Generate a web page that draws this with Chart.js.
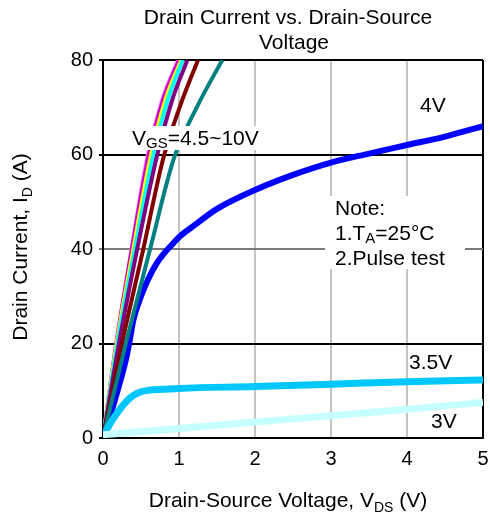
<!DOCTYPE html>
<html>
<head>
<meta charset="utf-8">
<script src="https://cdn.jsdelivr.net/npm/chart.js@4"></script>
<style>
  html, body { margin: 0; padding: 0; background: #fff; }
  #wrap { width: 490px; height: 520px; position: relative; }
</style>
</head>
<body>
<div id="wrap"><canvas id="c" width="490" height="520"></canvas></div>
<script>
// ---- data ----
const xTicks = [0, 1, 2, 3, 4, 5];
const yTicks = [0, 20, 40, 60, 80];

const v_vgs3 = [0, 1, 2, 3, 4, 5];
const i_vgs3 = [0.7, 2.0, 3.4, 4.7, 6.1, 7.5];

const v_vgs35 = [0, 0.05, 0.1, 0.2, 0.3, 0.4, 0.5, 0.6, 0.8, 1, 2, 3, 4, 5];
const i_vgs35 = [0, 1.8, 3.2, 5.6, 7.6, 9.0, 9.8, 10.1, 10.3, 10.5, 10.9, 11.4, 11.9, 12.3];

const v_vgs4 = [0, 0.1, 0.2, 0.3, 0.35, 0.4, 0.5, 0.6, 0.7, 0.8, 0.9, 1.0, 1.2, 1.5, 2, 2.5, 3, 3.5, 4, 4.5, 5];
const i_vgs4 = [0, 5, 10.5, 16.5, 20.5, 25, 30, 33.8, 36.8, 39, 40.8, 42.5, 45, 48.5, 52.5, 55.7, 58.3, 60.2, 62, 63.8, 66];

const v_vgs45 = [0, 0.3, 0.62, 0.93, 1.25, 1.57];
const i_vgs45 = [0, 20, 40, 59, 70.5, 80];
const v_vgs5 = [0, 0.25, 0.53, 0.79, 1.02, 1.25];
const i_vgs5 = [0, 20, 40, 59, 70.5, 80];
const v_vgs6 = [0, 0.21, 0.45, 0.70, 0.91, 1.11];
const i_vgs6 = [0, 20, 40, 59, 71.5, 80];
const v_vgs7 = [0, 0.19, 0.42, 0.65, 0.85, 1.05];
const i_vgs7 = [0, 20, 40, 59, 71.5, 80];
const v_vgs8 = [0, 0.18, 0.40, 0.62, 0.82, 1.03];
const i_vgs8 = [0, 20, 40, 59, 71.5, 80];
const v_vgs9 = [0, 0.175, 0.38, 0.59, 0.79, 1.0];
const i_vgs9 = [0, 20, 40, 59, 71.5, 80];
const v_vgs10 = [0, 0.17, 0.37, 0.57, 0.77, 0.98];
const i_vgs10 = [0, 20, 40, 59, 71.5, 80];

const FONT = '"Liberation Sans", Arial, Helvetica, sans-serif';
const TS = 21;   // text size for titles / notes
const KS = 20;   // tick label size

function pts(vs, is) { return vs.map((v, k) => ({ x: v, y: is[k] })); }
function ds(label, vs, is, color, w) {
  return { label, data: pts(vs, is), borderColor: color, backgroundColor: color,
           borderWidth: w, pointRadius: 0, cubicInterpolationMode: 'monotone', fill: false };
}

const datasets = [
  ds('3V', v_vgs3, i_vgs3, '#c6ffff', 7),
  ds('3.5V', v_vgs35, i_vgs35, '#00c8ff', 7),
  ds('4.5V', v_vgs45, i_vgs45, '#008080', 4),
  ds('5V', v_vgs5, i_vgs5, '#800000', 4),
  ds('6V', v_vgs6, i_vgs6, '#800080', 4),
  ds('7V', v_vgs7, i_vgs7, '#00ffff', 4),
  ds('8V', v_vgs8, i_vgs8, '#ffff00', 4),
  ds('9V', v_vgs9, i_vgs9, '#cc00cc', 4),
  ds('10V', v_vgs10, i_vgs10, '#ff88ff', 3),
  ds('4V', v_vgs4, i_vgs4, '#0000ff', 6),
];

function drawMixed(c, parts, cx, cy, size) {
  let total = 0;
  const widths = parts.map(p => {
    c.font = (p[1] ? Math.round(size * 0.68) : size) + 'px ' + FONT;
    const w = c.measureText(p[0]).width; total += w; return w;
  });
  let x = cx - total / 2;
  c.textAlign = 'left';
  c.textBaseline = 'alphabetic';
  parts.forEach((p, k) => {
    c.font = (p[1] ? Math.round(size * 0.68) : size) + 'px ' + FONT;
    c.fillText(p[0], x, cy + (p[1] ? size * 0.22 : 0));
    x += widths[k];
  });
}

const textPlugin = {
  id: 'texts',
  afterDatasetsDraw(chart) {
    const c = chart.ctx;
    c.save();
    c.fillStyle = '#fff';
    c.fillRect(129, 126, 142, 24);
    c.fillRect(325, 196, 140, 73);
    c.fillStyle = '#000';
    const S = TS;
    c.textBaseline = 'alphabetic';
    c.textAlign = 'left';
    let x = 132;
    c.font = S + 'px ' + FONT; c.fillText('V', x, 145); x += c.measureText('V').width;
    c.font = Math.round(S * 0.72) + 'px ' + FONT; c.fillText('GS', x, 148); x += c.measureText('GS').width;
    c.font = S + 'px ' + FONT; c.fillText('=4.5~10V', x, 145);
    c.font = S + 'px ' + FONT;
    c.fillText('Note:', 335, 215);
    x = 335;
    c.fillText('1.T', x, 240); x += c.measureText('1.T').width;
    c.font = Math.round(S * 0.72) + 'px ' + FONT; c.fillText('A', x, 243); x += c.measureText('A').width;
    c.font = S + 'px ' + FONT; c.fillText('=25°C', x, 240);
    c.fillText('2.Pulse test', 335, 265);
    c.fillText('4V', 420, 112);
    c.fillText('3.5V', 409, 369);
    c.fillText('3V', 431, 428);
    c.restore();
  },
  afterDraw(chart) {
    const c = chart.ctx;
    c.save();
    c.fillStyle = '#000';
    c.textAlign = 'center';
    c.textBaseline = 'middle';
    c.font = TS + 'px ' + FONT;
    c.fillText('Drain Current vs. Drain-Source', 288, 18);
    c.fillText('Voltage', 294, 43);
    drawMixed(c, [['Drain-Source Voltage, V', false], ['DS', true], [' (V)', false]], 288, 507, TS);
    c.translate(27, 247);
    c.rotate(-Math.PI / 2);
    drawMixed(c, [['Drain Current, I', false], ['D', true], [' (A)', false]], 0, 0, TS);
    c.restore();
  }
};

new Chart(document.getElementById('c'), {
  type: 'line',
  data: { datasets },
  options: {
    responsive: false,
    animation: false,
    layout: { padding: { top: 60, right: 7, left: 0, bottom: 0 } },
    plugins: { legend: { display: false }, tooltip: { enabled: false }, title: { display: false } },
    scales: {
      x: {
        type: 'linear', min: 0, max: 5,
        afterBuildTicks: s => { s.ticks = xTicks.map(v => ({ value: v })); },
        afterFit: s => { s.height = 82; s.paddingLeft = 0; s.paddingRight = 0; },
        ticks: { color: '#000', font: { size: KS, family: FONT }, padding: 9 },
        grid: {
          color: c => (c.tick && (c.tick.value === 0 || c.tick.value === 5)) ? '#000' : '#c4c4c4',
          lineWidth: 2, drawTicks: false
        },
        border: { display: true, color: '#000', width: 2 }
      },
      y: {
        type: 'linear', min: 0, max: 80,
        afterBuildTicks: s => { s.ticks = yTicks.map(v => ({ value: v })); },
        afterFit: s => { s.width = 103; s.paddingTop = 0; s.paddingBottom = 0; },
        ticks: { color: '#000', font: { size: KS, family: FONT }, padding: 6 },
        grid: {
          color: c => (c.tick && c.tick.value === 40) ? '#7a7a7a' : '#000',
          lineWidth: 2, drawTicks: true, tickLength: 4
        },
        border: { display: true, color: '#000', width: 2 }
      }
    }
  },
  plugins: [textPlugin]
});
</script>
</body>
</html>
